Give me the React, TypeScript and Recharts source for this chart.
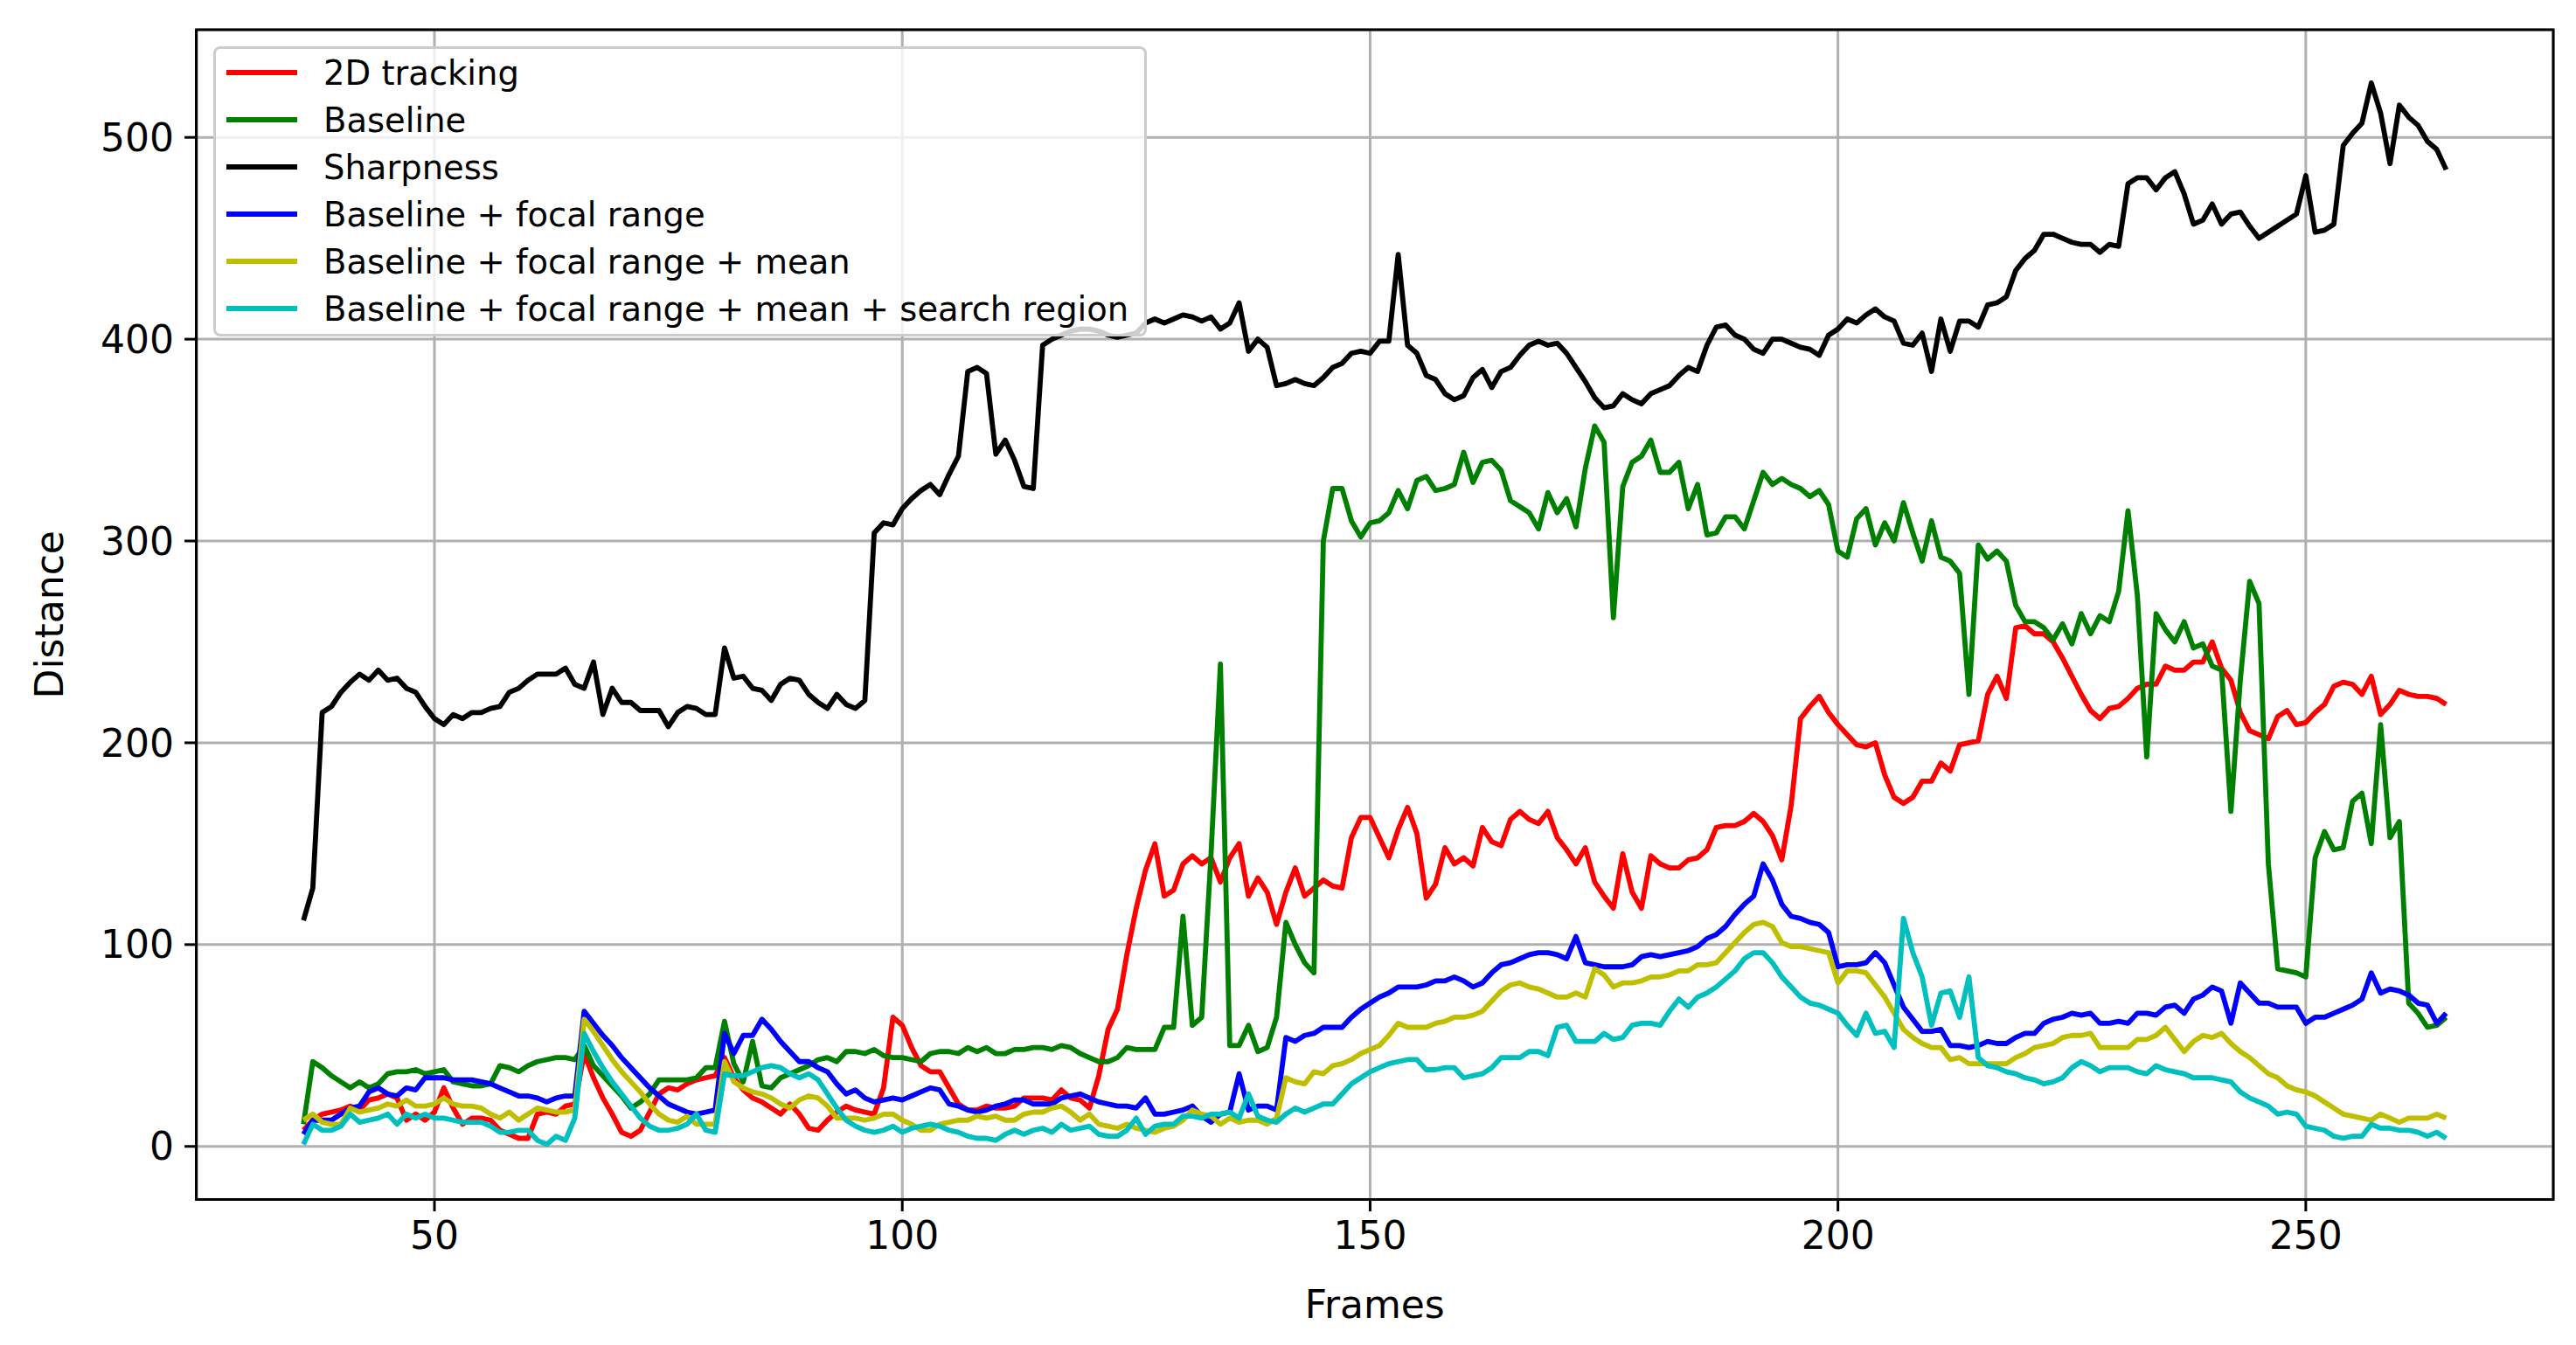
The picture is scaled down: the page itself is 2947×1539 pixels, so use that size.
import React from 'react';
import { LineChart, Line, XAxis, YAxis, CartesianGrid, Legend, ReferenceArea } from 'recharts';

// frames 36..265, one value per frame
const firstFrame = 36;

const tracking2d = [
  8, 13, 16, 17, 18, 20, 18, 23, 24, 26,
  24, 13, 16, 13, 17, 29, 19, 11, 14, 14,
  13, 8, 6, 4, 4, 16, 17, 16, 20, 21,
  46, 34, 24, 16, 7, 5, 8, 17, 26, 29,
  28, 31, 33, 34, 35, 44, 34, 28, 24, 22,
  19, 16, 21, 16, 9, 8, 13, 17, 20, 18,
  17, 16, 29, 64, 60, 49, 40, 37, 37, 29,
  21, 18, 18, 20, 19, 19, 20, 24, 24, 24,
  23, 28, 24, 23, 19, 35, 58, 68, 95, 118,
  137, 150, 124, 127, 140, 144, 140, 143, 131, 143,
  150, 124, 133, 126, 110, 126, 138, 124, 128, 132,
  129, 128, 153, 163, 163, 153, 143, 157, 168, 155,
  123, 130, 148, 140, 143, 139, 158, 151, 149, 162,
  166, 162, 160, 166, 153, 147, 140, 148, 131, 124,
  118, 145, 126, 118, 144, 140, 138, 138, 142, 143,
  147, 158, 159, 159, 161, 165, 161, 154, 142, 169,
  212, 218, 223, 215, 209, 204, 199, 198, 200, 184,
  173, 170, 173, 181, 181, 190, 186, 199, 200, 201,
  224, 233, 222, 257, 258, 254, 254, 250, 242, 233,
  224, 216, 212, 217, 218, 222, 227, 229, 229, 238,
  236, 236, 240, 240, 250, 237, 231, 215, 206, 204,
  202, 213, 216, 209, 210, 215, 219, 228, 230, 229,
  224, 233, 214, 219, 226, 224, 223, 223, 222, 219,
];

const baseline = [
  11, 42, 39, 35, 32, 29, 32, 29, 31, 36,
  37, 37, 38, 36, 37, 38, 32, 31, 30, 30,
  31, 40, 39, 37, 40, 42, 43, 44, 44, 43,
  50, 40, 35, 30, 25, 19, 22, 26, 33, 33,
  33, 33, 34, 39, 39, 62, 41, 32, 52, 30,
  29, 34, 36, 38, 40, 43, 44, 42, 47, 47,
  46, 48, 45, 44, 44, 43, 42, 46, 47, 47,
  46, 49, 47, 49, 46, 46, 48, 48, 49, 49,
  48, 50, 49, 46, 44, 42, 42, 44, 49, 48,
  48, 48, 59, 59, 114, 60, 64, 145, 239, 50,
  50, 60, 47, 49, 64, 111, 100, 91, 86, 300,
  326, 326, 310, 302, 309, 310, 314, 325, 316, 330,
  332, 325, 326, 328, 344, 329, 339, 340, 335, 320,
  317, 314, 306, 324, 314, 321, 307, 336, 357, 349,
  262, 327, 339, 342, 350, 334, 334, 339, 316, 328,
  303, 304, 312, 312, 306, 320, 334, 328, 331, 328,
  326, 322, 325, 318, 295, 292, 311, 316, 298, 309,
  300, 319, 304, 290, 310, 292, 290, 284, 224, 298,
  291, 295, 290, 268, 260, 260, 257, 251, 259, 249,
  264, 254, 263, 260, 275, 315, 273, 193, 264, 256,
  250, 260, 247, 249, 238, 236, 166, 231, 280, 269,
  140, 88, 87, 86, 84, 143, 156, 147, 148, 171,
  175, 150, 209, 153, 161, 71, 66, 59, 60, 64,
];

const sharpness = [
  112, 128, 215, 218, 225, 230, 234, 231, 236, 231,
  232, 227, 225, 218, 212, 209, 214, 212, 215, 215,
  217, 218, 225, 227, 231, 234, 234, 234, 237, 229,
  227, 240, 214, 227, 220, 220, 216, 216, 216, 208,
  215, 218, 217, 214, 214, 247, 232, 233, 227, 226,
  221, 229, 232, 231, 224, 220, 217, 224, 219, 217,
  221, 304, 309, 308, 316, 321, 325, 328, 323, 333,
  342, 384, 386, 383, 343, 350, 340, 327, 326, 397,
  400, 402, 404, 405, 405, 404, 402, 401, 402, 403,
  408, 410, 408, 410, 412, 411, 409, 411, 405, 408,
  418, 394, 400, 396, 377, 378, 380, 378, 377, 381,
  386, 388, 393, 394, 393, 399, 399, 442, 397, 393,
  382, 380, 373, 370, 372, 381, 385, 376, 384, 386,
  392, 397, 399, 397, 398, 393, 386, 379, 371, 366,
  367, 373, 370, 368, 373, 375, 377, 382, 386, 384,
  397, 406, 407, 402, 400, 395, 393, 400, 400, 398,
  396, 395, 392, 402, 405, 410, 408, 412, 415, 411,
  409, 398, 397, 403, 384, 410, 394, 409, 409, 406,
  417, 418, 421, 434, 440, 444, 452, 452, 450, 448,
  447, 447, 443, 447, 446, 477, 480, 480, 474, 480,
  483, 472, 457, 459, 467, 457, 462, 463, 456, 450,
  453, 456, 459, 462, 481, 453, 454, 457, 496, 502,
  507, 527, 512, 487, 516, 510, 506, 498, 494, 484,
];

const focalRange = [
  6, 13, 13, 13, 16, 19, 20, 27, 29, 26,
  25, 29, 28, 34, 34, 34, 33, 33, 33, 32,
  31, 29, 27, 25, 25, 24, 22, 24, 25, 25,
  67, 61, 55, 50, 44, 39, 34, 29, 25, 21,
  19, 17, 16, 17, 18, 56, 46, 55, 55, 63,
  58, 52, 47, 42, 42, 39, 37, 31, 26, 28,
  24, 22, 23, 24, 23, 25, 27, 29, 28, 21,
  20, 18, 17, 18, 20, 21, 23, 23, 21, 21,
  21, 24, 25, 26, 24, 22, 21, 20, 20, 19,
  24, 16, 16, 17, 18, 20, 15, 12, 16, 17,
  36, 18, 20, 20, 18, 54, 52, 55, 56, 59,
  59, 59, 64, 68, 71, 74, 76, 79, 79, 79,
  80, 82, 82, 84, 82, 79, 81, 86, 90, 91,
  93, 95, 96, 96, 95, 93, 104, 91, 90, 89,
  89, 89, 90, 94, 95, 94, 95, 96, 97, 99,
  103, 105, 109, 115, 120, 124, 140, 132, 120, 114,
  113, 111, 110, 106, 89, 90, 90, 91, 96, 91,
  80, 69, 63, 57, 57, 58, 50, 50, 49, 50,
  52, 51, 51, 54, 56, 56, 61, 63, 64, 66,
  65, 66, 61, 61, 62, 61, 66, 66, 65, 69,
  70, 66, 73, 75, 79, 77, 61, 81, 76, 71,
  71, 69, 69, 69, 61, 64, 64, 66, 68, 70,
  73, 86, 76, 78, 77, 75, 71, 70, 61, 66,
];

const focalMean = [
  13, 16, 12, 11, 11, 19, 17, 18, 19, 21,
  20, 23, 20, 20, 21, 24, 21, 20, 20, 19,
  16, 14, 17, 13, 16, 19, 18, 17, 17, 18,
  63, 57, 50, 43, 37, 32, 27, 21, 16, 13,
  12, 15, 11, 11, 11, 42, 32, 29, 27, 26,
  24, 21, 19, 23, 25, 24, 20, 14, 14, 14,
  13, 14, 16, 16, 13, 11, 8, 8, 11, 12,
  13, 13, 15, 14, 15, 13, 13, 16, 17, 17,
  19, 20, 17, 13, 16, 11, 10, 9, 11, 9,
  8, 7, 9, 10, 13, 18, 16, 15, 11, 14,
  12, 13, 13, 11, 14, 34, 32, 31, 37, 36,
  40, 41, 43, 46, 48, 50, 55, 61, 59, 59,
  59, 61, 62, 64, 64, 65, 67, 72, 77, 80,
  81, 79, 78, 76, 74, 74, 76, 74, 88, 85,
  79, 81, 81, 82, 84, 84, 85, 87, 87, 90,
  90, 91, 96, 101, 106, 110, 111, 109, 101, 99,
  99, 98, 97, 96, 81, 87, 87, 86, 80, 74,
  66, 58, 54, 51, 49, 49, 43, 44, 41, 41,
  41, 41, 41, 44, 46, 49, 50, 51, 54, 55,
  55, 56, 49, 49, 49, 49, 53, 53, 55, 59,
  53, 47, 52, 55, 54, 56, 51, 47, 44, 40,
  36, 34, 30, 28, 27, 25, 22, 19, 16, 15,
  14, 13, 16, 14, 12, 14, 14, 14, 16, 14,
];

const searchRegion = [
  1, 11, 8, 8, 10, 16, 12, 13, 14, 16,
  11, 16, 14, 16, 14, 14, 13, 12, 12, 12,
  10, 7, 7, 8, 8, 3, 1, 5, 3, 14,
  56, 47, 39, 32, 26, 20, 14, 10, 8, 8,
  9, 11, 16, 8, 7, 36, 35, 35, 37, 39,
  40, 39, 36, 34, 36, 33, 26, 19, 13, 10,
  8, 7, 8, 10, 7, 9, 10, 11, 10, 8,
  7, 5, 4, 4, 3, 6, 8, 6, 8, 9,
  7, 11, 8, 9, 10, 6, 5, 5, 8, 14,
  6, 10, 11, 11, 15, 15, 14, 16, 16, 17,
  14, 26, 15, 13, 12, 16, 19, 17, 19, 21,
  21, 26, 31, 34, 37, 39, 41, 42, 43, 43,
  38, 38, 39, 39, 34, 35, 36, 39, 44, 44,
  44, 47, 47, 45, 59, 60, 52, 52, 52, 56,
  53, 54, 60, 61, 61, 60, 67, 73, 69, 74,
  76, 79, 83, 87, 93, 96, 96, 91, 84, 79,
  74, 71, 70, 68, 66, 60, 55, 66, 56, 57,
  49, 113, 96, 84, 60, 76, 77, 64, 84, 44,
  40, 39, 37, 36, 34, 33, 31, 32, 34, 39,
  42, 40, 37, 39, 39, 39, 37, 36, 40, 38,
  37, 36, 34, 34, 34, 33, 32, 27, 24, 22,
  20, 16, 17, 16, 10, 9, 8, 5, 4, 5,
  5, 11, 9, 9, 8, 8, 7, 5, 7, 4,
];

const xTicks = [50, 100, 150, 200, 250];
const yTicks = [0, 100, 200, 300, 400, 500];

const series = [
  { key: 'tracking2d', name: '2D tracking', color: '#ff0000', values: tracking2d },
  { key: 'baseline', name: 'Baseline', color: '#008000', values: baseline },
  { key: 'sharpness', name: 'Sharpness', color: '#000000', values: sharpness },
  { key: 'focalRange', name: 'Baseline + focal range', color: '#0000ff', values: focalRange },
  { key: 'focalMean', name: 'Baseline + focal range + mean', color: '#bfbf00', values: focalMean },
  { key: 'searchRegion', name: 'Baseline + focal range + mean + search region', color: '#00bfbf', values: searchRegion },
];

const data = tracking2d.map((_, i) => {
  const row: Record<string, number> = { frame: firstFrame + i };
  series.forEach((s) => {
    row[s.key] = s.values[i];
  });
  return row;
});

const FONT = '"DejaVu Sans", sans-serif';
const xDomain: [number, number] = [24.55, 276.45];
const yDomain: [number, number] = [-26.35, 553.35];

const LegendBox = () => (
  <div
    style={{
      width: 1068,
      height: 332,
      boxSizing: 'border-box',
      border: '3px solid #cccccc',
      borderRadius: 8,
      background: 'rgba(255,255,255,0.8)',
      padding: '0 0 6px 12px',
      fontFamily: FONT,
      fontSize: 38.5,
      color: '#000',
    }}
  >
    {series.map((s) => (
      <div key={s.key} style={{ display: 'flex', alignItems: 'center', height: 54 }}>
        <div style={{ width: 81, height: 5.8, background: s.color, marginRight: 30 }} />
        <span style={{ whiteSpace: 'nowrap' }}>{s.name}</span>
      </div>
    ))}
  </div>
);

export default function App() {
  return (
    <div style={{ position: 'absolute', left: 0, top: 0, background: '#fff' }}>
      <LineChart width={2947} height={1539} data={data} margin={{ top: 34, right: 26, bottom: 0, left: 0 }}>
        <CartesianGrid stroke="#b0b0b0" strokeWidth={3} />
        <XAxis
          dataKey="frame"
          type="number"
          domain={xDomain}
          ticks={xTicks}
          allowDataOverflow
          height={166.4}
          tickSize={13.5}
          tickMargin={12}
          tick={{ fill: '#000', fontSize: 44, fontFamily: FONT }}
          tickLine={{ stroke: '#000', strokeWidth: 3 }}
          axisLine={{ stroke: '#000', strokeWidth: 3 }}
          label={{ value: 'Frames', position: 'insideTop', offset: 104, fill: '#000', fontSize: 44, fontFamily: FONT }}
        />
        <YAxis
          type="number"
          domain={yDomain}
          ticks={yTicks}
          allowDataOverflow
          width={224.6}
          tickSize={13.5}
          tickMargin={12}
          tick={{ fill: '#000', fontSize: 44, fontFamily: FONT }}
          tickLine={{ stroke: '#000', strokeWidth: 3 }}
          axisLine={{ stroke: '#000', strokeWidth: 3 }}
          label={{
            value: 'Distance',
            angle: -90,
            position: 'insideLeft',
            offset: 56,
            fill: '#000',
            fontSize: 44,
            fontFamily: FONT,
            style: { textAnchor: 'middle' },
          }}
        />
        {series.map((s) => (
          <Line
            key={s.key}
            type="linear"
            dataKey={s.key}
            name={s.name}
            stroke={s.color}
            strokeWidth={5.8}
            strokeLinejoin="round"
            dot={false}
            activeDot={false}
            isAnimationActive={false}
          />
        ))}
        <ReferenceArea
          x1={xDomain[0]}
          x2={xDomain[1]}
          y1={yDomain[0]}
          y2={yDomain[1]}
          fill="none"
          stroke="#000"
          strokeWidth={3}
          ifOverflow="visible"
        />
        <Legend
          layout="vertical"
          align="center"
          verticalAlign="middle"
          wrapperStyle={{ left: 244, top: 53, width: 1068, height: 332 }}
          content={() => <LegendBox />}
        />
      </LineChart>
    </div>
  );
}
